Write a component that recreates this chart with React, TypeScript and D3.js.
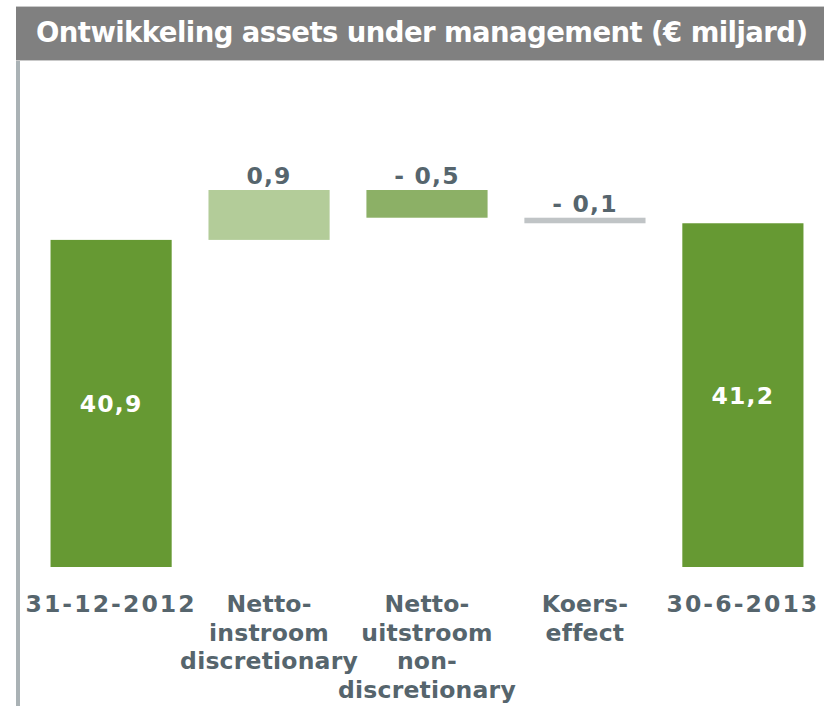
import React from "react";
import * as d3 from "d3";

const categories = [
  ["31-12-2012"],
  ["Netto-", "instroom", "discretionary"],
  ["Netto-", "uitstroom", "non-", "discretionary"],
  ["Koers-", "effect"],
  ["30-6-2013"],
];
const values = [40.9, 0.9, -0.5, -0.1, 41.2];
const kinds = ["total", "delta", "delta", "delta", "total"];
const valueLabels = ["40,9", "0,9", "- 0,5", "- 0,1", "41,2"];
const colors = ["#669933", "#b3cc99", "#8cb066", "#c0c4c6", "#669933"];

const W = 824;
const H = 706;
const textColor = "#56656d";

export default function App() {
  // waterfall ranges
  let running = 0;
  const bars = values.map((v, i) => {
    if (kinds[i] === "total") {
      running = v;
      return { lo: 35, hi: v };
    }
    const start = running;
    running = start + v;
    return { lo: Math.min(start, running), hi: Math.max(start, running) };
  });

  const x = d3
    .scaleBand()
    .domain(values.map((_, i) => String(i)))
    .range([30, 824])
    .paddingInner(0.233)
    .paddingOuter(0.13);

  const y = d3.scaleLinear().domain([35, 41.8]).range([567, 190]);

  return (
    <svg
      width={W}
      height={H}
      style={{ position: "absolute", left: 0, top: 0 }}
      fontFamily="DejaVu Sans"
    >
      <rect x={0} y={0} width={W} height={H} fill="#fff" />
      {/* title bar */}
      <rect x={16} y={6} width={808} height={54} fill="#808080" />
      <line x1={16} x2={824} y1={6.5} y2={6.5} stroke="#c9c9c9" />
      <line x1={16} x2={824} y1={60.5} y2={60.5} stroke="#c9c9c9" />
      <text
        x={36}
        y={42}
        fill="#fff"
        fontWeight="bold"
        fontSize={27.5}
        textLength={772}
        lengthAdjust="spacing"
      >
        Ontwikkeling assets under management (€ miljard)
      </text>
      {/* left rule */}
      <rect x={16} y={61} width={4} height={H - 61} fill="#aab2b5" />

      {bars.map((b, i) => {
        const bx = x(String(i))!;
        const bw = x.bandwidth();
        const top = y(b.hi);
        const bottom = y(b.lo);
        const cx = bx + bw / 2;
        const inside = kinds[i] === "total";
        return (
          <g key={i}>
            <rect x={bx} y={top} width={bw} height={bottom - top} fill={colors[i]} />
            {inside ? (
              <text
                x={cx}
                y={(top + bottom) / 2 + 8.5}
                textAnchor="middle"
                fill="#fff"
                fontWeight="bold"
                fontSize={23.5}
                letterSpacing={1.2}
              >
                {valueLabels[i]}
              </text>
            ) : (
              <text
                x={cx}
                y={top - 6}
                textAnchor="middle"
                fill={textColor}
                fontWeight="bold"
                fontSize={23.5}
                letterSpacing={1.2}
              >
                {valueLabels[i]}
              </text>
            )}
            {categories[i].map((line, j) => (
              <text
                key={j}
                x={cx}
                y={612 + j * 28.7}
                textAnchor="middle"
                fill={textColor}
                fontWeight="bold"
                fontSize={23.5}
                letterSpacing={categories[i].length === 1 ? 2.1 : 0.2}
              >
                {line}
              </text>
            ))}
          </g>
        );
      })}
    </svg>
  );
}
